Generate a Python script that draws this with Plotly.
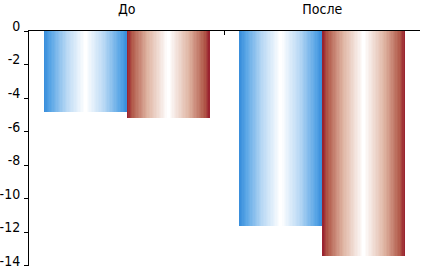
import plotly.graph_objects as go

categories = ["До", "После"]
series_blue = [-4.8, -11.6]
series_red = [-5.2, -13.4]
y_ticks = [0, -2, -4, -6, -8, -10, -12, -14]

def hex2rgb(h):
    h = h.lstrip("#")
    return tuple(int(h[i:i + 2], 16) for i in (0, 2, 4))

def interp(stops, t):
    for (t0, c0), (t1, c1) in zip(stops, stops[1:]):
        if t <= t1:
            f = (t - t0) / (t1 - t0) if t1 > t0 else 0
            a, b = hex2rgb(c0), hex2rgb(c1)
            return "rgb(%d,%d,%d)" % tuple(round(a[i] + (b[i] - a[i]) * f) for i in range(3))
    return stops[-1][1]

blue_stops = [(0, "#3a8fdc"), (0.15, "#5aa6e6"), (0.55, "#b8d8f4"), (1, "#ffffff")]
red_stops = [(0, "#9a2430"), (0.12, "#b25a4a"), (0.5, "#dfb4a2"), (1, "#ffffff")]

fig = go.Figure()
N = 30
bar_w = 0.424
for vals, center, stops in [(series_blue, -0.212, blue_stops), (series_red, 0.212, red_stops)]:
    for k in range(N):
        w = bar_w * (1 - k / N)
        fig.add_trace(go.Bar(
            x=categories, y=vals, width=w, offset=center - w / 2,
            marker=dict(color=interp(stops, k / (N - 1)), line=dict(width=0)),
            showlegend=False, hoverinfo="skip",
        ))

font_family = "Liberation Sans Narrow, DejaVu Sans Condensed, Arial Narrow, sans-serif"
fig.update_layout(
    width=421, height=269,
    margin=dict(l=29, r=1, t=31, b=3),
    barmode="overlay", bargap=0,
    plot_bgcolor="white", paper_bgcolor="white",
    font=dict(family=font_family, size=14, color="black"),
    xaxis=dict(
        side="top", type="category", range=[-0.5, 1.5], automargin=False,
        showline=True, linecolor="black", linewidth=1,
        ticks="inside", ticklen=4, tickcolor="black", tickson="boundaries",
        showgrid=False, zeroline=False, ticklabelstandoff=10,
    ),
    yaxis=dict(
        range=[-14.001, 0.001], tickvals=y_ticks, ticktext=[str(v) for v in y_ticks],
        automargin=False,
        showline=True, linecolor="black", linewidth=1,
        ticks="outside", ticklen=4, tickcolor="black",
        showgrid=False, zeroline=False, ticklabelshift=-5, ticklabelstandoff=1,
    ),
)
fig.write_html("out.html", config={"displayModeBar": False},
               post_script="document.body.style.margin='0';")
